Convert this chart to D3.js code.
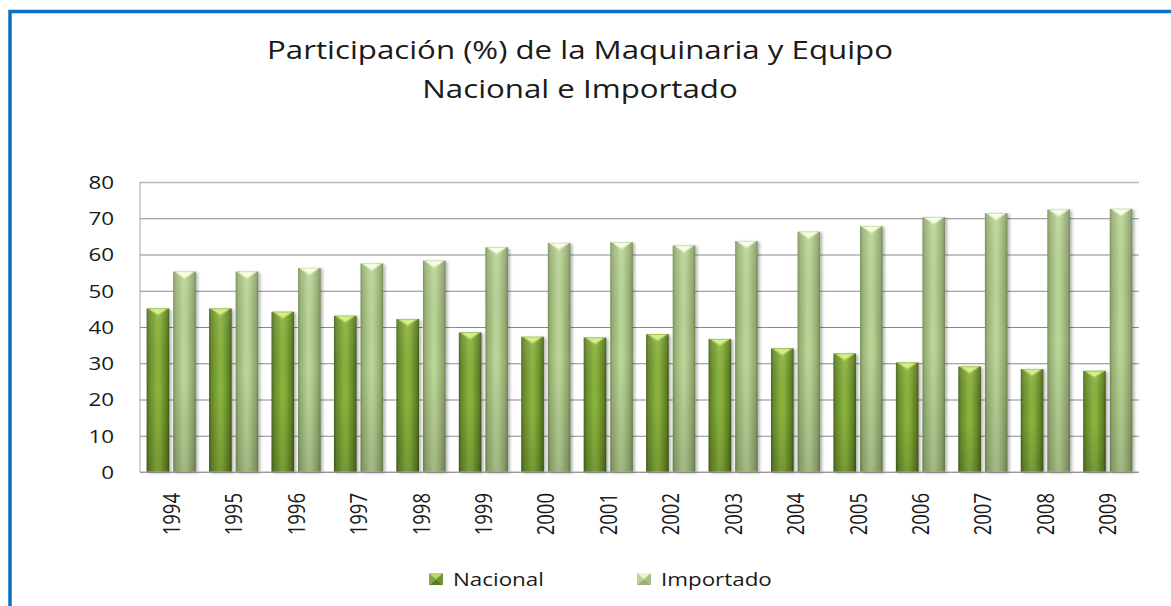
<!DOCTYPE html>
<html>
<head>
<meta charset="utf-8">
<script src="https://cdn.jsdelivr.net/npm/d3@7"></script>
<style>
  html, body { margin: 0; padding: 0; background: #fff; }
  svg { display: block; }
  text { font-family: "Open Sans", "Noto Sans", sans-serif; fill: #1a1a1a; }
</style>
</head>
<body>
<div id="chart"></div>
<script>
// data
const years = ["1994","1995","1996","1997","1998","1999","2000","2001","2002","2003","2004","2005","2006","2007","2008","2009"];
const nacional  = [45.1, 45.1, 44.2, 43.1, 42.2, 38.5, 37.3, 37.1, 38.0, 36.7, 34.1, 32.7, 30.2, 29.1, 28.4, 27.9];
const importado = [55.3, 55.3, 56.3, 57.5, 58.3, 62.0, 63.2, 63.4, 62.5, 63.7, 66.3, 67.8, 70.3, 71.4, 72.4, 72.6];
const series = ["Nacional", "Importado"];
const yTicks = [0, 10, 20, 30, 40, 50, 60, 70, 80];
const titleLines = ["Participación (%) de la Maquinaria y Equipo", "Nacional e Importado"];

const width = 1171, height = 606;
const plot = {left: 140, right: 1139, top: 182, bottom: 472};
const SX = 1.28; // the picture is stretched sideways, so is the text

const svg = d3.select("#chart").append("svg")
    .attr("width", width)
    .attr("height", height);

const defs = svg.append("defs");

// bar fills: sideways shine + darker toward the bottom
function hGrad(id, stops) {
  const g = defs.append("linearGradient").attr("id", id)
      .attr("x1", 0).attr("x2", 1).attr("y1", 0).attr("y2", 0);
  stops.forEach(s => g.append("stop").attr("offset", s[0]).attr("stop-color", s[1]));
}
hGrad("g-nac", [[0, "#46611a"], [0.1, "#66892a"], [0.45, "#8bb43e"], [0.6, "#87ae3a"], [0.9, "#5c7e22"], [1, "#3d5614"]]);
hGrad("g-imp", [[0, "#758d58"], [0.1, "#97b174"], [0.45, "#bdd799"], [0.6, "#b6cf91"], [0.9, "#8fa76d"], [1, "#6d8451"]]);

const shade = defs.append("linearGradient").attr("id", "g-shade")
    .attr("x1", 0).attr("x2", 0).attr("y1", 0).attr("y2", 1);
shade.append("stop").attr("offset", 0).attr("stop-color", "#fff").attr("stop-opacity", 0.08);
shade.append("stop").attr("offset", 0.5).attr("stop-color", "#000").attr("stop-opacity", 0);
shade.append("stop").attr("offset", 1).attr("stop-color", "#000").attr("stop-opacity", 0.14);

const shadow = defs.append("filter").attr("id", "shadow")
    .attr("x", "-20%").attr("y", "-5%").attr("width", "150%").attr("height", "115%");
shadow.append("feDropShadow").attr("dx", 2).attr("dy", 1).attr("stdDeviation", 1.5)
    .attr("flood-color", "#000").attr("flood-opacity", 0.3);

// blue frame (runs off the right and bottom of the picture)
svg.append("path")
    .attr("d", `M10,${height + 5}V11.5H${width + 5}`)
    .attr("fill", "none")
    .attr("stroke", "#0a70c4")
    .attr("stroke-width", 3.5);

// title
svg.append("g").selectAll("text")
  .data(titleLines)
  .join("text")
    .attr("text-anchor", "middle")
    .attr("transform", (d, i) => `translate(580,${59 + i * 39}) scale(1.25,1)`)
    .style("font-size", "25px")
    .text(d => d);

// scales
const x = d3.scaleBand().domain(years).range([plot.left, plot.right]);
const xs = d3.scaleBand().domain(series).range([0, x.bandwidth()])
    .paddingInner(0.15).paddingOuter(0.25);
const y = d3.scaleLinear().domain([0, 80]).range([plot.bottom, plot.top]);

// grid + y labels
const yAxis = svg.append("g")
    .attr("transform", `translate(${plot.left},0)`)
    .call(d3.axisLeft(y).tickValues(yTicks).tickSize(-(plot.right - plot.left)).tickFormat(d3.format("d")));
yAxis.select(".domain").remove();
yAxis.selectAll(".tick line")
    .attr("stroke", d => d === 80 ? "#b8b8b8" : "#8a8a8a")
    .attr("stroke-width", d => d === 80 ? 1.6 : 1);
yAxis.selectAll(".tick text")
    .attr("x", 0).attr("dy", "0.36em")
    .attr("transform", `translate(-26,0) scale(${SX},1)`)
    .style("font-size", "17.5px")
    .attr("fill", "#1a1a1a");

svg.append("line")
    .attr("x1", plot.left).attr("x2", plot.left)
    .attr("y1", plot.top).attr("y2", plot.bottom)
    .attr("stroke", "#a6a6a6");

// bars
const rows = years.map((yr, i) => ({year: yr, values: [nacional[i], importado[i]]}));
const fills = {Nacional: "url(#g-nac)", Importado: "url(#g-imp)"};
const caps = {Nacional: ["#d4ee8e", "#a7c950"], Importado: ["#f8fde8", "#d5e8b6"]};

const bars = svg.append("g").selectAll("g")
  .data(rows)
  .join("g")
    .attr("transform", d => `translate(${x(d.year)},0)`)
  .selectAll("g")
  .data(d => d.values.map((v, k) => ({key: series[k], value: v})))
  .join("g");

bars.append("rect")
    .attr("x", d => xs(d.key))
    .attr("y", d => y(d.value))
    .attr("width", xs.bandwidth())
    .attr("height", d => y(0) - y(d.value))
    .attr("fill", d => fills[d.key])
    .attr("filter", "url(#shadow)");

bars.append("rect")
    .attr("x", d => xs(d.key))
    .attr("y", d => y(d.value))
    .attr("width", xs.bandwidth())
    .attr("height", d => y(0) - y(d.value))
    .attr("fill", "url(#g-shade)");

// bevelled top
bars.append("path")
    .attr("d", d => {
      const x0 = xs(d.key), w = xs.bandwidth(), t = y(d.value);
      return `M${x0 + 1},${t}H${x0 + w - 1}L${x0 + w / 2},${t + 8}Z`;
    })
    .attr("fill", d => caps[d.key][1]);
bars.append("path")
    .attr("d", d => {
      const x0 = xs(d.key), w = xs.bandwidth(), t = y(d.value);
      return `M${x0 + 3.5},${t + 0.8}H${x0 + w - 3.5}L${x0 + w / 2},${t + 6}Z`;
    })
    .attr("fill", d => caps[d.key][0]);

// x axis
svg.append("line")
    .attr("x1", plot.left).attr("x2", plot.right)
    .attr("y1", plot.bottom).attr("y2", plot.bottom)
    .attr("stroke", "#a6a6a6");

const xAxis = svg.append("g")
    .attr("transform", `translate(0,${plot.bottom})`)
    .call(d3.axisBottom(x).tickSize(0));
xAxis.select(".domain").remove();
xAxis.selectAll(".tick text")
    .attr("y", 0).attr("dy", "0.36em")
    .attr("text-anchor", "end")
    .attr("transform", `translate(0,21) scale(${SX},1) rotate(-90)`)
    .style("font-size", "18.5px")
    .attr("fill", "#1a1a1a");

// legend
const legendX = [429, 637];
const legendFaces = {
  Nacional: ["#b9d96c", "#6f9430", "#84ab3b", "#587a1f"],
  Importado: ["#eaf4d2", "#a8c087", "#bcd49a", "#97ae76"]
};
const legend = svg.append("g").selectAll("g")
  .data(series)
  .join("g")
    .attr("transform", (d, i) => `translate(${legendX[i]},573)`);

legend.each(function(d) {
  const g = d3.select(this), w = 14, h = 12, f = legendFaces[d];
  g.append("path").attr("d", `M0,0H${w}L${w / 2},${h / 2}Z`).attr("fill", f[0]);
  g.append("path").attr("d", `M0,0L${w / 2},${h / 2}L0,${h}Z`).attr("fill", f[2]);
  g.append("path").attr("d", `M${w},0L${w / 2},${h / 2}L${w},${h}Z`).attr("fill", f[1]);
  g.append("path").attr("d", `M0,${h}L${w / 2},${h / 2}L${w},${h}Z`).attr("fill", f[3]);
});

legend.append("text")
    .attr("transform", `translate(24,13) scale(${SX},1)`)
    .style("font-size", "17.5px")
    .text(d => d);
</script>
</body>
</html>
